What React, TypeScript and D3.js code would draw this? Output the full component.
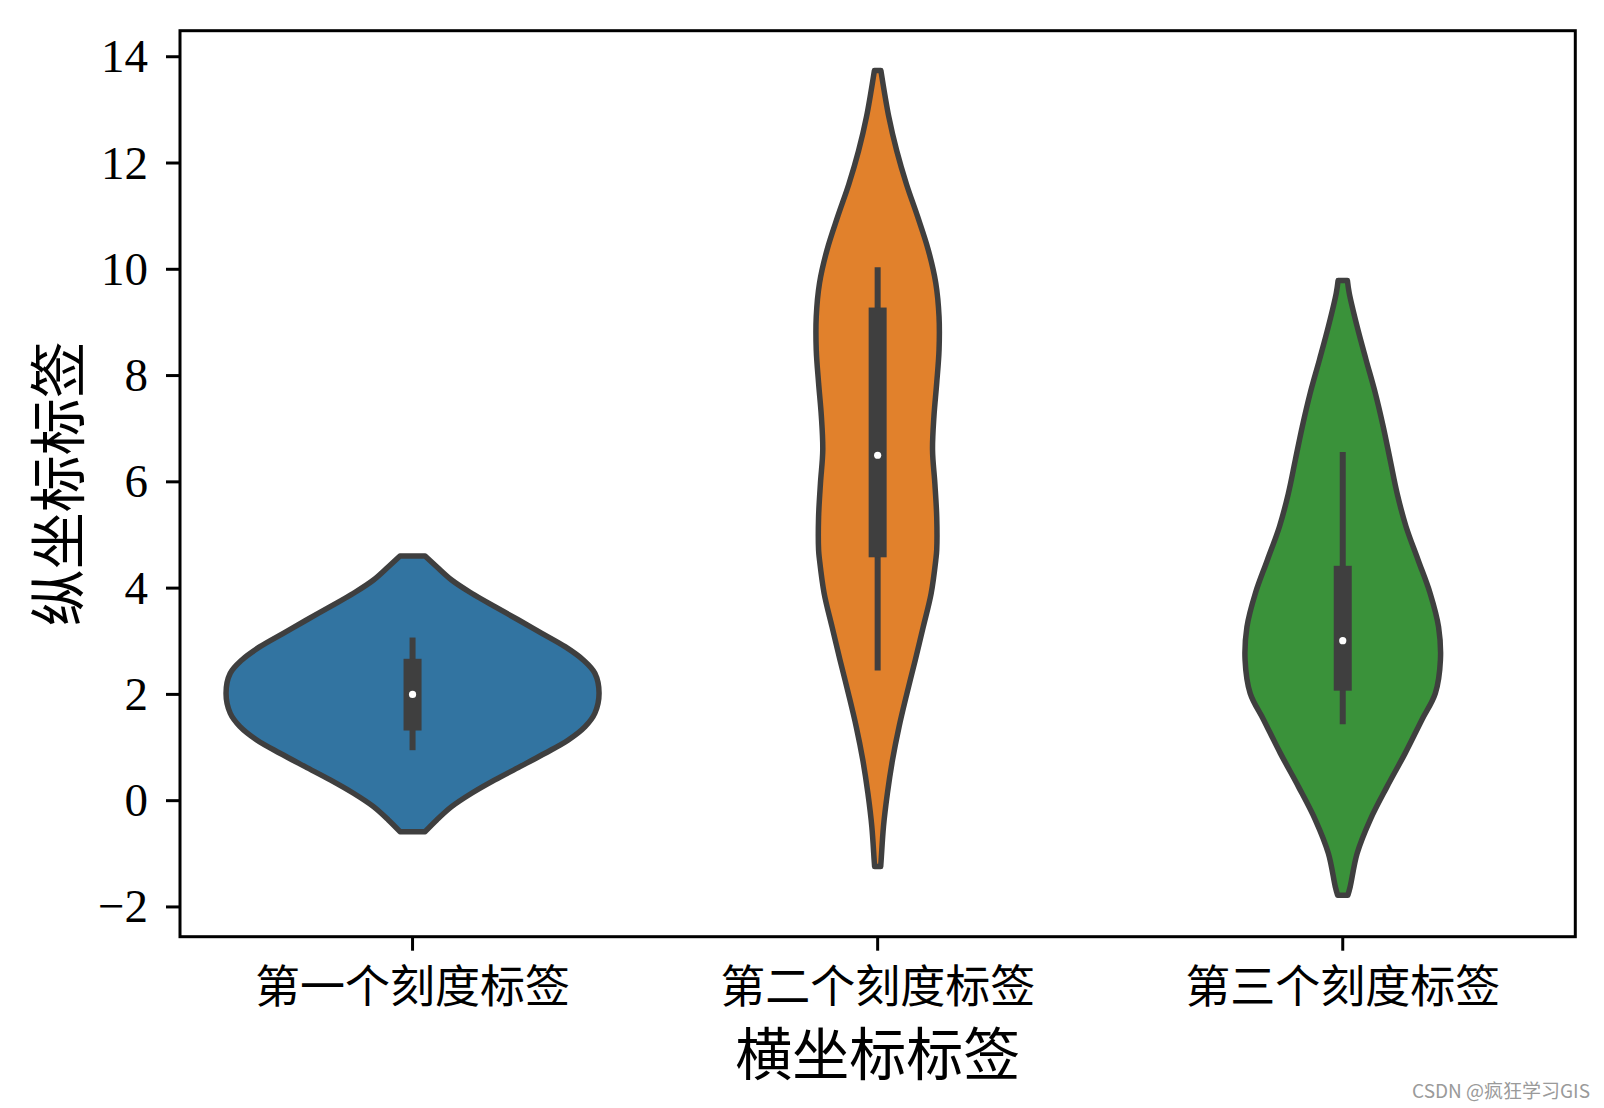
import React, { useRef, useEffect } from 'react';
import * as d3 from 'd3';

// categories shown on the x axis
const categories = ['第一个刻度标签', '第二个刻度标签', '第三个刻度标签'];
const fills = ['#3274a1', '#e1812c', '#3a923a'];
const yTicks = [-2, 0, 2, 4, 6, 8, 10, 12, 14];

// violin outlines: [value, half width in category units], read top to bottom
const violinA: [number, number][] = [
  [4.605, 0.027], [4.403, 0.052], [4.153, 0.084], [3.903, 0.127], [3.651, 0.177],
  [3.4, 0.228], [3.15, 0.278], [2.898, 0.328], [2.648, 0.367], [2.397, 0.392],
  [2.021, 0.401], [1.645, 0.392], [1.393, 0.371], [1.142, 0.335], [0.892, 0.285],
  [0.64, 0.231], [0.391, 0.177], [0.139, 0.127], [-0.113, 0.084], [-0.363, 0.052],
  [-0.583, 0.027],
];
const violinB: [number, number][] = [
  [13.74, 0.007], [12.87, 0.024], [12.23, 0.041], [11.6, 0.062], [10.99, 0.086],
  [10.36, 0.109], [9.74, 0.125], [9.11, 0.132], [8.48, 0.132], [7.86, 0.127],
  [7.23, 0.121], [6.6, 0.118], [5.97, 0.123], [5.34, 0.127], [4.72, 0.127],
  [4.53, 0.125], [3.9, 0.115], [3.27, 0.098], [2.65, 0.081], [2.02, 0.063],
  [1.39, 0.046], [0.77, 0.032], [0.14, 0.021], [-0.49, 0.0125], [-1.12, 0.0075],
  [-1.24, 0.0065],
];
const violinC: [number, number][] = [
  [9.79, 0.01], [9.55, 0.014], [8.92, 0.031], [8.3, 0.05], [7.67, 0.07],
  [7.04, 0.087], [6.41, 0.102], [5.78, 0.117], [5.16, 0.136], [4.53, 0.162],
  [3.9, 0.188], [3.27, 0.206], [2.65, 0.21], [2.02, 0.199], [1.52, 0.17],
  [0.89, 0.134], [0.26, 0.095], [-0.36, 0.059], [-0.99, 0.031], [-1.62, 0.016],
  [-1.78, 0.011],
];
const violins = [violinA, violinB, violinC];

// box stats: [whisker low, q1, median, q3, whisker high]
const boxStats: [number, number, number, number, number][] = [
  [0.95, 1.32, 2.0, 2.67, 3.07],
  [2.45, 4.58, 6.5, 9.28, 10.04],
  [1.44, 2.07, 3.01, 4.42, 6.56],
];

const App: React.FC = () => {
  const svgRef = useRef<SVGSVGElement>(null);
  const width = 1604;
  const height = 1108;

  useEffect(() => {
    if (!svgRef.current) return;
    const svg = d3.select(svgRef.current);
    svg.selectAll('*').remove();

    const margin = { left: 180, right: 1575.3, top: 30.7, bottom: 936.7 };
    const x = d3.scaleLinear().domain([-0.5, 2.5]).range([margin.left, margin.right]);
    const y = d3.scaleLinear().domain([-2.56, 14.49]).range([margin.bottom, margin.top]);
    const unit = x(1) - x(0);
    const dark = '#3f3f3f';
    const serif = '"Liberation Serif", "DejaVu Serif", serif';
    const cjk = '"Noto Sans CJK SC", sans-serif';

    // violins
    violins.forEach((pts, i) => {
      const cx = x(i);
      const area = d3.area<[number, number]>()
        .y(d => y(d[0]))
        .x0(d => cx - d[1] * unit)
        .x1(d => cx + d[1] * unit)
        .curve(d3.curveCatmullRom);
      svg.append('path')
        .datum(pts)
        .attr('d', area)
        .attr('fill', fills[i])
        .attr('stroke', dark)
        .attr('stroke-width', 5.5)
        .attr('stroke-linejoin', 'round');

      const [lo, q1, med, q3, hi] = boxStats[i];
      svg.append('line')
        .attr('x1', cx).attr('x2', cx)
        .attr('y1', y(lo)).attr('y2', y(hi))
        .attr('stroke', dark).attr('stroke-width', 6);
      svg.append('rect')
        .attr('x', cx - 9).attr('width', 18)
        .attr('y', y(q3)).attr('height', y(q1) - y(q3))
        .attr('fill', dark);
      svg.append('circle')
        .attr('cx', cx).attr('cy', y(med)).attr('r', 3.6)
        .attr('fill', 'white');
    });

    // frame
    svg.append('rect')
      .attr('x', margin.left).attr('y', margin.top)
      .attr('width', margin.right - margin.left)
      .attr('height', margin.bottom - margin.top)
      .attr('fill', 'none').attr('stroke', 'black').attr('stroke-width', 3);

    // y axis
    const yAxis = svg.append('g');
    yTicks.forEach(t => {
      yAxis.append('line')
        .attr('x1', margin.left - 14).attr('x2', margin.left)
        .attr('y1', y(t)).attr('y2', y(t))
        .attr('stroke', 'black').attr('stroke-width', 3);
      yAxis.append('text')
        .attr('x', margin.left - 32)
        .attr('y', y(t))
        .attr('dy', '0.33em')
        .attr('text-anchor', 'end')
        .attr('font-family', serif)
        .attr('font-size', 47)
        .attr('fill', 'black')
        .text(t < 0 ? `\u2212${Math.abs(t)}` : String(t));
    });

    // x axis
    categories.forEach((c, i) => {
      svg.append('line')
        .attr('x1', x(i)).attr('x2', x(i))
        .attr('y1', margin.bottom).attr('y2', margin.bottom + 14)
        .attr('stroke', 'black').attr('stroke-width', 3);
      svg.append('text')
        .attr('x', x(i))
        .attr('y', 983)
        .attr('dominant-baseline', 'central')
        .attr('text-anchor', 'middle')
        .attr('font-family', cjk)
        .attr('font-size', 45)
        .attr('fill', 'black')
        .text(c);
    });

    // axis labels
    svg.append('text')
      .attr('x', (margin.left + margin.right) / 2)
      .attr('y', 1050)
      .attr('dominant-baseline', 'central')
      .attr('text-anchor', 'middle')
      .attr('font-family', cjk)
      .attr('font-size', 57)
      .attr('fill', 'black')
      .text('横坐标标签');

    svg.append('text')
      .attr('transform', `translate(54,${(margin.top + margin.bottom) / 2}) rotate(-90)`)
      .attr('dominant-baseline', 'central')
      .attr('text-anchor', 'middle')
      .attr('font-family', cjk)
      .attr('font-size', 57)
      .attr('fill', 'black')
      .text('纵坐标标签');

    // watermark
    svg.append('text')
      .attr('x', 1590)
      .attr('y', 1089)
      .attr('dominant-baseline', 'central')
      .attr('text-anchor', 'end')
      .attr('font-family', '"Noto Sans CJK SC", Roboto, sans-serif')
      .attr('font-size', 19)
      .attr('fill', '#9a9a9a')
      .text('CSDN @疯狂学习GIS');
  }, []);

  return (
    <svg
      ref={svgRef}
      width={width}
      height={height}
      style={{ position: 'absolute', left: 0, top: 0, background: 'white' }}
    />
  );
};

export default App;
